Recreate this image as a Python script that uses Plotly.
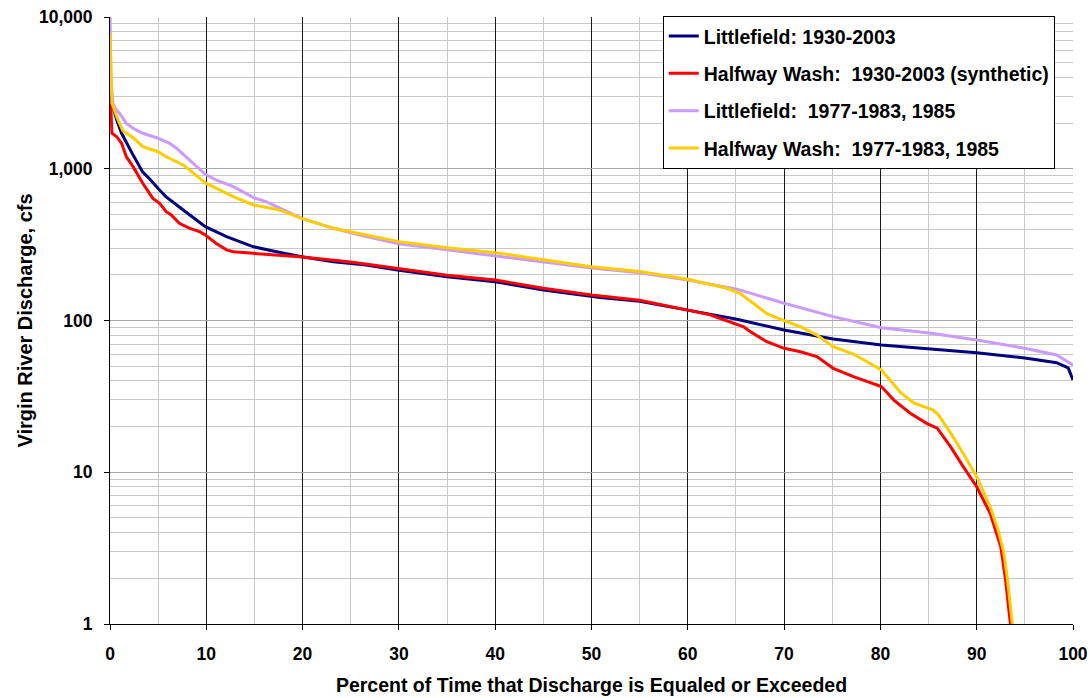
import plotly.graph_objects as go

# Flow-duration curves, Virgin River (percent exceedance vs discharge, cfs)
littlefield_all_pct = [0, 0.36, 0.7, 1.2, 1.9, 2.4, 3.4, 4.1, 5.0, 5.8, 7.6, 9.9, 12.1,
                       14.9, 17.3, 19.9, 23.2, 26.6, 30.0, 35.0, 40.0, 45.0, 50.9, 55.0,
                       60.0, 65.1, 70.0, 75.1, 80.1, 85.1, 90.0, 95.0, 98.3, 99.5, 100]
littlefield_all_cfs = [3000, 2440, 2094, 1713, 1397, 1230, 950, 860, 740, 655, 535, 415, 357,
                       306, 284, 263, 244, 232, 214, 194, 180, 159, 142, 134,
                       117, 102, 86.5, 75.5, 68.9, 64.9, 61.3, 56.6, 52.7, 48.7, 40.5]

halfway_syn_pct = [0, 0.1, 0.2, 0.7, 1.2, 1.7, 2.4, 3.4, 4.45, 5.15, 5.84, 6.36, 7.2, 8.3, 9.3,
                   9.9, 11.0, 12.1, 12.8, 14.9, 19.7, 25.0, 30.0, 35.0, 40.0, 45.0, 50.0,
                   55.0, 60.0, 62.3, 65.8, 66.5, 68.2, 70.0, 71.7, 73.4, 75.1, 77.2, 80.1,
                   81.4, 83.1, 84.8, 85.9, 87.3, 88.6, 90.0, 91.4, 92.5, 93.0, 93.5]
halfway_syn_cfs = [3460, 2000, 1713, 1626, 1472, 1200, 1032, 802, 638, 592, 521, 496, 437, 405, 385,
                   366, 323, 292, 284, 277, 263, 243, 221, 199, 185, 163, 147,
                   136, 117, 109, 91, 84.4, 72.5, 65.6, 62.3, 57.8, 48.4, 42.7, 36.7,
                   29.9, 24.5, 21.0, 19.5, 14.7, 10.9, 8.03, 5.36, 3.23, 1.95, 1.0]

littlefield_7785_pct = [0, 0.08, 0.3, 0.64, 1.0, 1.7, 2.4, 3.4, 5.0, 6.2, 6.9, 7.9, 8.6, 9.9,
                        11.0, 12.8, 14.9, 16.2, 19.9, 23.2, 26.6, 30.0, 35.0, 40.0, 45.0,
                        50.0, 55.0, 60.0, 65.1, 70.0, 75.1, 80.1, 85.1, 90.0, 95.0, 98.3, 100]
littlefield_7785_cfs = [12000, 4050, 2700, 2450, 2316, 1990, 1848, 1713, 1588, 1472, 1365, 1199,
                        1086, 920, 843, 762, 645, 607, 471, 405, 357, 320, 292, 267, 245,
                        222, 206, 185, 161, 130, 106, 89.7, 82.7, 74.5, 65.6, 59.3, 50.9]

halfway_7785_pct = [0, 0.1, 0.2, 0.7, 1.33, 2.4, 3.4, 5.0, 5.84, 7.6, 9.9, 12.8, 14.9, 17.6,
                    19.9, 23.2, 26.6, 30.0, 35.0, 40.0, 45.0, 50.0, 55.0, 60.0, 64.05, 65.4,
                    66.8, 68.2, 70.0, 71.7, 73.4, 75.1, 77.2, 80.1, 81.0, 82.1, 83.5, 85.5,
                    86.0, 87.3, 88.6, 90.0, 91.4, 92.2, 92.8, 93.2, 93.7]
halfway_7785_cfs = [7800, 4000, 2710, 2200, 1780, 1600, 1400, 1295, 1200, 1060, 806, 655, 577, 535,
                    471, 405, 366, 331, 302, 280, 251, 226, 210, 187, 163, 151,
                    130, 111, 99.7, 91, 80.2, 67.2, 60.1, 47.2, 40.5, 33.5, 28.5, 25.7,
                    24.0, 18.1, 13.3, 9.35, 5.93, 4.2, 3.0, 1.95, 1.0]

series = [
    ("Littlefield: 1930-2003", littlefield_all_pct, littlefield_all_cfs, "#000080"),
    ("Halfway Wash:  1930-2003 (synthetic)", halfway_syn_pct, halfway_syn_cfs, "#FF0000"),
    ("Littlefield:  1977-1983, 1985", littlefield_7785_pct, littlefield_7785_cfs, "#CC99FF"),
    ("Halfway Wash:  1977-1983, 1985", halfway_7785_pct, halfway_7785_cfs, "#FFCC00"),
]

y_tick_vals = [1, 10, 100, 1000, 10000]
y_tick_text = ["1", "10", "100", "1,000", "10,000"]
x_tick_vals = [0, 10, 20, 30, 40, 50, 60, 70, 80, 90, 100]

FONT = "Liberation Sans, Arial, sans-serif"
TICK_FONT = dict(family=FONT, size=17.5, color="black", weight="bold")
LABEL_FONT = dict(family=FONT, size=19.5, color="black", weight="bold")

fig = go.Figure()
for i, (name, xs, ys, color) in enumerate(series):
    fig.add_trace(go.Scatter(
        x=xs, y=ys, mode="lines", name=name, legendgroup=f"g{i}",
        line=dict(color=color, width=3),
    ))

fig.update_layout(
    width=1092, height=698,
    margin=dict(l=110, r=19, t=17, b=74),
    paper_bgcolor="white", plot_bgcolor="white",
    font=dict(family=FONT, size=16, color="black", weight="bold"),
    showlegend=True,
    legend=dict(
        x=0.574, y=1.002, xanchor="left", yanchor="top",
        bgcolor="white", bordercolor="black", borderwidth=1,
        font=LABEL_FONT,
        traceorder="grouped", tracegroupgap=9,
    ),
    xaxis=dict(
        range=[0, 100], tickvals=x_tick_vals, automargin=False,
        showline=True, linecolor="black", linewidth=1,
        ticks="outside", ticklen=5, tickcolor="black",
        showgrid=True, gridcolor="#1a1a1a", gridwidth=1,
        minor=dict(dtick=5, showgrid=True, gridcolor="#c8c8c8", gridwidth=1),
        zeroline=False, ticklabelstandoff=9,
        tickfont=TICK_FONT,
        title=dict(text="Percent of Time that Discharge is Equaled or Exceeded",
                   font=LABEL_FONT, standoff=15),
    ),
    yaxis=dict(
        type="log", range=[0, 4], automargin=False,
        tickvals=y_tick_vals, ticktext=y_tick_text,
        showline=True, linecolor="black", linewidth=1,
        ticks="outside", ticklen=5, tickcolor="black",
        showgrid=True, gridcolor="#a8a8a8", gridwidth=1,
        minor=dict(dtick="D1", showgrid=True, gridcolor="#c8c8c8", gridwidth=1),
        zeroline=False, ticklabelstandoff=8,
        tickfont=TICK_FONT,
        title=dict(text="Virgin River Discharge, cfs",
                   font=dict(family=FONT, size=20, color="black", weight="bold"),
                   standoff=0),
    ),
)

fig.write_html("out.html")
